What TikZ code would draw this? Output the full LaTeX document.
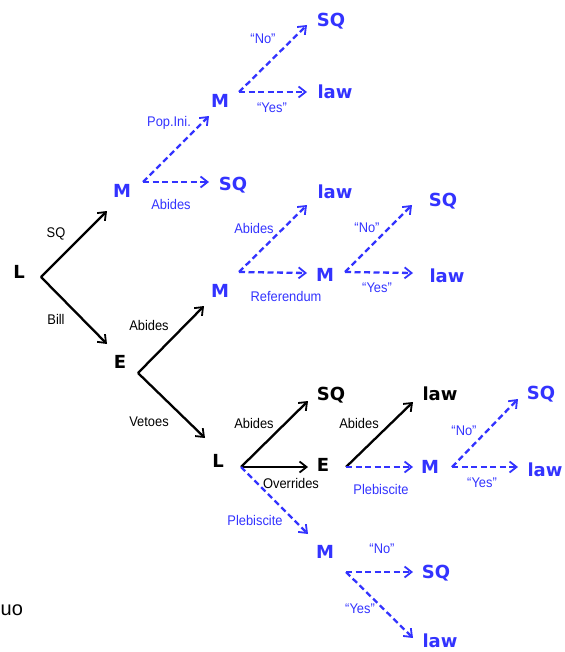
\documentclass[tikz,border=0pt]{standalone}
\usepackage{fontspec}
\setmainfont{Liberation Sans}
\newfontfamily\dvs{DejaVu Sans}
\newfontfamily\labfont{Liberation Sans}[FakeStretch=0.92]
\usetikzlibrary{arrows.meta}
\definecolor{tblue}{RGB}{51,51,255}
\tikzset{
  big/.style={font=\dvs\bfseries\fontsize{18}{20}\selectfont, inner sep=0pt, anchor=base},
  bigb/.style={big, text=tblue},
  bigk/.style={big, text=black},
  lab/.style={font=\labfont\fontsize{14}{16}\selectfont, inner sep=0pt},
  labb/.style={lab, text=tblue},
  labk/.style={lab, text=black},
  solidarr/.style={draw=black, line width=2.3pt, -{Straight Barb[length=7pt,width=11pt,line width=1.8pt]}},
  dasharr/.style={draw=tblue, line width=2.3pt, dash pattern=on 6pt off 3.5pt, -{Straight Barb[length=7pt,width=11pt,line width=1.8pt]}}
}
\begin{document}
\begin{tikzpicture}[x=1pt,y=-1pt]
\useasboundingbox (0,0) rectangle (564,652);
% text nodes
\node[bigk] (L) at (19,278) {L};
\node[bigb] (M1) at (122,198) {M};
\node[bigk] (E1) at (120,368) {E};
\node[bigb] (M2) at (220,108) {M};
\node[bigb] (SQa) at (331,27) {SQ};
\node[bigb] (lawa) at (335,99) {law};
\node[bigb] (SQb) at (233,191) {SQ};
\node[bigb] (M3) at (220,297) {M};
\node[bigb] (lawb) at (335,199) {law};
\node[bigb] (M4) at (325,281) {M};
\node[bigb] (SQc) at (443,207) {SQ};
\node[bigb] (lawc) at (447,282) {law};
\node[bigk] (L2) at (218,467) {L};
\node[bigk] (SQd) at (331,400) {SQ};
\node[bigk] (E2) at (323,471) {E};
\node[bigk] (lawd) at (440,400) {law};
\node[bigb] (M6) at (430,473) {M};
\node[bigb] (SQe) at (541,399) {SQ};
\node[bigb] (lawe) at (545,476) {law};
\node[bigb] (M5) at (325,558) {M};
\node[bigb] (SQf) at (436,578) {SQ};
\node[bigb] (lawf) at (440,647) {law};
% small labels
\node[labk] (l1) at (56,234) {SQ};
\node[labk] (l2) at (56,319) {Bill};
\node[labb] (l3) at (169,123) {Pop.Ini.};
\node[labb] (l4) at (171,204) {Abides};
\node[labb] (l5) at (263,39) {“No”};
\node[labb] (l6) at (272,108) {“Yes”};
\node[labk] (l7) at (149,325) {Abides};
\node[labk] (l8) at (149,422) {Vetoes};
\node[labb] (l9) at (254,228) {Abides};
\node[labb] (l10) at (286,296) {Referendum};
\node[labb] (l11) at (367,228) {“No”};
\node[labb] (l12) at (377,288) {“Yes”};
\node[labk] (l13) at (254,423) {Abides};
\node[labk] (l14) at (291,483) {Overrides};
\node[labb] (l15) at (255,520) {Plebiscite};
\node[labk] (l16) at (359,423) {Abides};
\node[labb] (l17) at (381,489) {Plebiscite};
\node[labb] (l18) at (464,431) {“No”};
\node[labb] (l19) at (482,483) {“Yes”};
\node[labb] (l20) at (382,549) {“No”};
\node[labb] (l21) at (360,609) {“Yes”};
\node[font=\fontsize{20}{22}\selectfont, inner sep=0pt, anchor=base west] (uo) at (0.5,615) {uo};
% branch points
\coordinate (Lo) at (41,277);
\coordinate (M1o) at (143,182);
\coordinate (M2o) at (239,92);
\coordinate (E1o) at (138,373);
\coordinate (M3o) at (239,272);
\coordinate (M4o) at (345,272);
\coordinate (L2o) at (241,467);
\coordinate (E2o) at (346,467);
\coordinate (M6o) at (452,467);
\coordinate (M5o) at (346,572);
% arrow tips
\coordinate (M1i) at (107,211);
\coordinate (E1i) at (107,344);
\coordinate (M2i) at (209,116);
\coordinate (SQbi) at (209,182);
\coordinate (SQai) at (307,25);
\coordinate (lawai) at (307,92);
\coordinate (M3i) at (204,306);
\coordinate (L2i) at (205,438);
\coordinate (lawbi) at (307,205);
\coordinate (M4i) at (307,273);
\coordinate (SQci) at (412,205);
\coordinate (lawci) at (413,273);
\coordinate (SQdi) at (308,401);
\coordinate (E2i) at (308,467);
\coordinate (M5i) at (308,534);
\coordinate (lawdi) at (413,402);
\coordinate (M6i) at (413,467);
\coordinate (SQei) at (518,399);
\coordinate (lawei) at (518,467);
\coordinate (SQfi) at (413,572);
\coordinate (lawfi) at (413,638);
% connectors
\draw[solidarr] (Lo) -- (M1i);
\draw[solidarr] (Lo) -- (E1i);
\draw[dasharr] (M1o) -- (M2i);
\draw[dasharr] (M1o) -- (SQbi);
\draw[dasharr] (M2o) -- (SQai);
\draw[dasharr] (M2o) -- (lawai);
\draw[solidarr] (E1o) -- (M3i);
\draw[solidarr] (E1o) -- (L2i);
\draw[dasharr] (M3o) -- (lawbi);
\draw[dasharr] (M3o) -- (M4i);
\draw[dasharr] (M4o) -- (SQci);
\draw[dasharr] (M4o) -- (lawci);
\draw[solidarr] (L2o) -- (SQdi);
\draw[solidarr] (L2o) -- (E2i);
\draw[dasharr] (L2o) -- (M5i);
\draw[solidarr] (E2o) -- (lawdi);
\draw[dasharr] (E2o) -- (M6i);
\draw[dasharr] (M6o) -- (SQei);
\draw[dasharr] (M6o) -- (lawei);
\draw[dasharr] (M5o) -- (SQfi);
\draw[dasharr] (M5o) -- (lawfi);
\end{tikzpicture}
\end{document}
